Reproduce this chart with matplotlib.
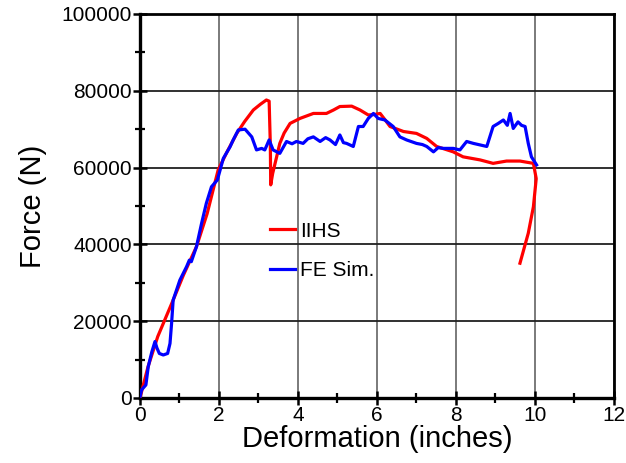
import matplotlib
matplotlib.use("Agg")
import matplotlib.pyplot as plt
from matplotlib.ticker import MultipleLocator

plt.rcParams['font.family'] = ['Liberation Sans', 'DejaVu Sans']

# IIHS test: deformation (in) vs force (N)
iihs_x = [0.0, 0.2, 0.45, 0.84, 1.1, 1.43, 1.7, 1.98, 2.2, 2.45, 2.65, 2.87, 3.05, 3.2, 3.27,
          3.3, 3.31, 3.36, 3.46, 3.54, 3.65, 3.8, 4.05, 4.39, 4.72, 4.9, 5.06, 5.36, 5.57,
          5.78, 5.92, 6.08, 6.2, 6.33, 6.67, 7.0, 7.26, 7.51, 7.93, 8.18, 8.61, 8.94, 9.28,
          9.62, 9.96, 10.03, 10.03, 9.96, 9.83, 9.62]
iihs_f = [0, 8000, 16000, 25500, 32000, 39400, 48000, 59400, 64000, 68900, 72000, 75000, 76500,
          77600, 77300, 66000, 55500, 58500, 62800, 66300, 69000, 71500, 72800, 74100, 74100,
          75000, 75900, 76000, 75000, 73700, 73800, 74100, 72500, 70700, 69400, 68900, 67600,
          65500, 64100, 62800, 62000, 61100, 61700, 61700, 61100, 57200, 57000, 49800, 42900,
          35100]

# FE simulation
sim_x = [0.0, 0.04, 0.15, 0.21, 0.3, 0.38, 0.43, 0.49, 0.59, 0.7, 0.76, 0.8, 0.84, 1.01, 1.18,
         1.25, 1.3, 1.43, 1.56, 1.68, 1.81, 1.96, 2.11, 2.28, 2.36, 2.49, 2.66, 2.83, 2.95, 3.08,
         3.16, 3.27, 3.37, 3.54, 3.71, 3.85, 3.96, 4.13, 4.25, 4.39, 4.56, 4.7, 4.81, 4.95, 5.06,
         5.15, 5.23, 5.4, 5.53, 5.65, 5.78, 5.91, 6.03, 6.2, 6.41, 6.58, 6.75, 7.0, 7.15, 7.26,
         7.43, 7.55, 7.68, 7.93, 8.1, 8.27, 8.44, 8.61, 8.78, 8.94, 9.07, 9.2, 9.3, 9.37, 9.45,
         9.57, 9.66, 9.75, 9.83, 9.91, 10.04]
sim_f = [300, 2100, 3400, 8200, 12000, 14700, 13000, 11600, 11200, 11600, 14200, 19400, 25500,
         30700, 34200, 35900, 35500, 39400, 45500, 50700, 55000, 56800, 62400, 65400, 67200,
         69800, 70000, 68000, 64600, 65000, 64600, 67200, 64600, 63700, 66800, 66200, 66800,
         66300, 67500, 68000, 66800, 67800, 67200, 66000, 68500, 66500, 66300, 65500, 70700,
         70700, 72800, 74100, 72800, 72400, 70700, 68000, 67200, 66300, 66000, 65500, 64100,
         65200, 65000, 65000, 64600, 66800, 66300, 65900, 65500, 70700, 71500, 72400, 71000,
         74100, 70200, 71900, 71000, 70700, 66300, 62800, 60700]

fig = plt.figure(figsize=(6.26, 4.63), dpi=100)
ax = fig.add_axes([0.2236, 0.1404, 0.7572, 0.8294])

ax.plot(iihs_x, iihs_f, color='#ff0000', lw=2.3, label='IIHS', zorder=3)
ax.plot(sim_x, sim_f, color='#0000ff', lw=2.3, label='FE Sim.', zorder=4)

ax.set_xlim(0, 12)
ax.set_ylim(0, 100000)
ax.xaxis.set_major_locator(MultipleLocator(2))
ax.xaxis.set_minor_locator(MultipleLocator(1))
ax.yaxis.set_major_locator(MultipleLocator(20000))
ax.yaxis.set_minor_locator(MultipleLocator(10000))

ax.xaxis.grid(True, color='#707070', lw=1.3)
ax.yaxis.grid(True, color='#202020', lw=1.3)
ax.set_axisbelow(True)

for side in ['left', 'bottom']:
    ax.spines[side].set_linewidth(2.4)
for side in ['top', 'right']:
    ax.spines[side].set_linewidth(2.0)

ax.tick_params(which='major', direction='inout', length=10, width=1.8, labelsize=15,
               top=False, right=False, pad=1)
ax.tick_params(which='minor', direction='inout', length=7, width=1.6, top=False, right=False)

ax.set_xlabel('Deformation (inches)', fontsize=21, labelpad=0)
ax.set_ylabel('Force (N)', fontsize=21, labelpad=10)

ax.legend(loc='upper left', bbox_to_anchor=(0.234, 0.508), frameon=False, fontsize=15,
          handlelength=1.2, handletextpad=0.25, labelspacing=1.0, borderpad=0.4)

fig.savefig('out.png', dpi=100)
